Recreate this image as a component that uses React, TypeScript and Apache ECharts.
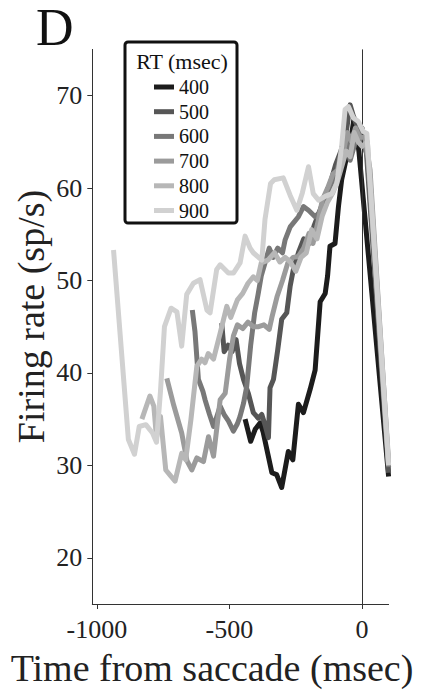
import React, { useEffect, useRef } from 'react';
import * as echarts from 'echarts';

// ---- data ----
const RT_LABELS = ['400', '500', '600', '700', '800', '900'];
const X_TICKS = [-1000, -500, 0];
const Y_TICKS = [20, 30, 40, 50, 60, 70];

const t400 = [-441, -420, -403, -384, -373, -355, -340, -322, -303, -278, -261, -240, -221, -196, -177, -158, -139, -130, -121, -102, -89, -77, -58, -39, -30, -12, 100];
const v400 = [35.0, 32.6, 33.9, 34.6, 33.6, 31.2, 29.2, 29.0, 27.6, 31.5, 30.6, 36.6, 35.7, 38.2, 40.3, 47.7, 48.6, 50.5, 53.7, 54.0, 58.0, 60.9, 63.4, 65.9, 67.6, 64.0, 28.8];

const t500 = [-529, -520, -505, -490, -475, -462, -447, -429, -410, -391, -378, -366, -353, -347, -334, -318, -303, -284, -271, -259, -240, -220, -200, -180, -160, -140, -120, -100, -80, -60, -45, -30, -15, 0, 15, 100];
const v500 = [45.4, 42.3, 43.0, 42.3, 43.6, 41.0, 39.3, 37.8, 35.7, 35.1, 35.5, 34.4, 33.0, 38.4, 39.3, 42.5, 45.8, 46.5, 49.4, 51.2, 53.0, 54.5, 54.0, 56.0, 57.5, 59.0, 60.5, 62.5, 64.0, 66.0, 69.0, 67.5, 66.5, 66.5, 64.5, 29.2];

const t600 = [-640, -630, -617, -600, -592, -575, -560, -545, -535, -520, -504, -485, -470, -460, -447, -435, -420, -405, -392, -380, -365, -350, -335, -318, -300, -290, -271, -240, -221, -202, -177, -152, -121, -102, -77, -60, -45, -30, -15, 0, 20, 100];
const v600 = [46.8, 44.5, 39.3, 38.0, 37.1, 35.5, 34.2, 35.5, 36.4, 35.5, 34.8, 33.7, 34.5, 35.3, 36.7, 38.5, 43.0, 46.5, 48.5, 50.5, 52.0, 53.5, 52.5, 53.5, 53.0, 54.4, 55.8, 56.9, 58.0, 57.6, 56.9, 57.6, 59.4, 60.9, 64.1, 65.5, 63.0, 64.5, 66.5, 65.0, 63.5, 29.8];

const t700 = [-736, -710, -680, -660, -642, -623, -598, -579, -560, -535, -516, -500, -485, -470, -450, -430, -410, -390, -370, -350, -340, -320, -300, -280, -260, -240, -220, -200, -185, -165, -150, -130, -110, -90, -70, -55, -40, -25, -10, 10, 30, 100];
const v700 = [39.4, 36.5, 33.5, 30.5, 29.5, 30.8, 30.4, 33.1, 31.0, 37.1, 37.8, 41.4, 44.0, 45.2, 44.8, 45.5, 45.0, 45.0, 45.2, 44.7, 46.0, 48.3, 50.0, 51.9, 52.5, 52.6, 53.5, 55.1, 54.0, 56.5, 58.7, 60.0, 61.5, 62.0, 64.0, 66.0, 65.0, 66.5, 65.5, 65.5, 62.0, 30.0];

const t800 = [-830, -812, -800, -785, -775, -760, -740, -720, -705, -680, -665, -645, -623, -605, -592, -580, -560, -535, -510, -495, -470, -450, -430, -410, -395, -380, -355, -330, -310, -290, -270, -250, -230, -210, -190, -170, -150, -130, -110, -90, -75, -60, -45, -30, -15, 0, 20, 100];
const v800 = [35.0, 36.5, 37.5, 36.4, 33.0, 35.3, 29.5, 28.8, 28.3, 31.3, 30.6, 35.0, 40.7, 41.5, 41.1, 42.1, 41.5, 44.3, 47.2, 46.0, 47.9, 48.6, 49.7, 50.4, 50.0, 51.9, 52.2, 53.0, 52.0, 52.5, 52.0, 51.0, 52.5, 53.0, 55.5, 54.5, 57.0, 58.5, 59.5, 61.0, 62.5, 64.0, 63.4, 66.0, 65.0, 64.5, 65.0, 30.5];

const t900 = [-937, -881, -858, -840, -815, -790, -775, -760, -745, -720, -698, -680, -661, -636, -611, -585, -573, -548, -535, -504, -485, -460, -441, -422, -410, -378, -366, -345, -331, -297, -271, -246, -225, -202, -184, -164, -139, -114, -95, -77, -64, -51, -33, -14, 5, 18, 100];
const v900 = [53.3, 32.8, 31.2, 34.2, 34.4, 33.5, 32.5, 38.0, 45.0, 47.0, 46.6, 42.9, 48.5, 49.7, 50.1, 46.8, 46.5, 51.2, 51.7, 50.8, 50.8, 51.9, 54.8, 53.5, 53.0, 52.2, 56.6, 60.5, 60.9, 61.1, 59.2, 57.6, 59.5, 62.3, 59.4, 58.7, 59.1, 59.4, 60.5, 64.5, 68.5, 68.8, 67.6, 67.2, 66.1, 65.9, 30.0];

const TIMES = [t400, t500, t600, t700, t800, t900];
const VALUES = [v400, v500, v600, v700, v800, v900];

// ---- styles ----
const COLORS = ['#1c1c1c', '#565656', '#787878', '#9b9b9b', '#b7b7b7', '#d1d1d1'];
const FONT = 'Liberation Serif';
const AXIS_COLOR = '#333';

export default function App() {
  const ref = useRef<HTMLDivElement>(null);

  useEffect(() => {
    if (!ref.current) return;
    const chart = echarts.init(ref.current, null, { renderer: 'svg' });

    const series: any[] = RT_LABELS.map((name, i) => ({
      type: 'line',
      name,
      data: TIMES[i].map((t, j) => [t, VALUES[i][j]]),
      showSymbol: false,
      symbol: 'none',
      z: 2 + i,
      lineStyle: { width: 5, color: COLORS[i], join: 'round' },
      itemStyle: { color: COLORS[i] },
      emphasis: { disabled: true },
      silent: true,
    }));
    series[0].markLine = {
      silent: true,
      symbol: ['none', 'none'],
      label: { show: false },
      lineStyle: { color: AXIS_COLOR, width: 1, type: 'solid' },
      data: [{ xAxis: 0 }],
    };

    const option: any = {
      animation: false,
      backgroundColor: '#fff',
      textStyle: { fontFamily: FONT },
      grid: {
        left: 92.3,
        top: 49.4,
        width: 296.3,
        height: 554.6,
        containLabel: false,
        outerBoundsMode: 'none',
      },
      xAxis: {
        type: 'value',
        min: -1017,
        max: 100,
        axisLine: { show: true, onZero: false, lineStyle: { color: AXIS_COLOR, width: 1 } },
        axisTick: { show: true, length: 5, customValues: X_TICKS, lineStyle: { color: AXIS_COLOR } },
        axisLabel: {
          customValues: X_TICKS,
          formatter: (v: number) => String(v),
          fontSize: 26,
          fontFamily: FONT,
          color: '#222',
          margin: 12,
        },
        splitLine: { show: false },
      },
      yAxis: {
        type: 'value',
        min: 15,
        max: 75,
        axisLine: { show: true, onZero: false, lineStyle: { color: AXIS_COLOR, width: 1 } },
        axisTick: { show: true, length: 5, customValues: Y_TICKS, lineStyle: { color: AXIS_COLOR } },
        axisLabel: {
          customValues: Y_TICKS,
          formatter: (v: number) => String(v),
          fontSize: 26,
          fontFamily: FONT,
          color: '#222',
          margin: 10,
        },
        splitLine: { show: false },
      },
      legend: {
        show: true,
        data: RT_LABELS,
        orient: 'vertical',
        left: 125,
        top: 42,
        padding: [35, 28, 2.5, 29],
        itemWidth: 20,
        itemHeight: 5,
        itemGap: 4.7,
        icon: 'rect',
        borderColor: '#111',
        borderWidth: 3,
        borderRadius: 3,
        selectedMode: false,
        textStyle: { fontSize: 20, fontFamily: FONT, color: '#111', lineHeight: 20 },
      },
      graphic: [
        {
          type: 'text',
          x: 36,
          y: 27.5,
          style: { text: 'D', fontSize: 52, fontFamily: FONT, fill: '#111', textAlign: 'left', textVerticalAlign: 'middle', align: 'left', verticalAlign: 'middle' },
        },
        {
          type: 'text',
          x: 182,
          y: 61,
          z: 100,
          style: { text: 'RT (msec)', fontSize: 22, fontFamily: FONT, fill: '#111', textAlign: 'center', textVerticalAlign: 'middle', align: 'center', verticalAlign: 'middle' },
        },
        {
          type: 'text',
          x: 212,
          y: 668,
          style: { text: 'Time from saccade (msec)', fontSize: 38, fontFamily: FONT, fill: '#222', textAlign: 'center', textVerticalAlign: 'middle', align: 'center', verticalAlign: 'middle' },
        },
        {
          type: 'text',
          x: 31,
          y: 316.5,
          rotation: Math.PI / 2,
          style: { text: 'Firing rate (sp/s)', fontSize: 38, fontFamily: FONT, fill: '#222', textAlign: 'center', textVerticalAlign: 'middle', align: 'center', verticalAlign: 'middle' },
        },
      ],
      series,
    };

    chart.setOption(option);
    return () => chart.dispose();
  }, []);

  return (
    <div
      ref={ref}
      style={{ position: 'absolute', left: 0, top: 0, width: 432, height: 690, background: '#fff' }}
    />
  );
}
